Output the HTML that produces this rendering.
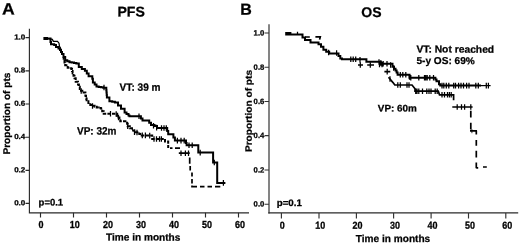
<!DOCTYPE html>
<html><head><meta charset="utf-8"><title>PFS and OS</title>
<style>
html,body{margin:0;padding:0;background:#fff;}
body{width:520px;height:244px;overflow:hidden;position:relative;font-family:"Liberation Sans",sans-serif;}
svg{position:absolute;left:0;top:0;display:block;will-change:transform;}
text{font-family:"Liberation Sans",sans-serif;font-weight:bold;fill:#000;}
</style></head><body>
<svg width="520" height="244" viewBox="0 0 520 244">
<rect width="520" height="244" fill="#fff"/>
<!-- left axes -->
<g stroke="#2a2a2a" stroke-width="1.15" fill="none">
<path d="M29.4 28.8V212.8H249"/>
<path d="M25.5 37.6H29.4M25.5 70.8H29.4M25.5 104H29.4M25.5 137.2H29.4M25.5 170.4H29.4M25.5 203.4H29.4"/>
<path d="M40.5 212.8V217.4M73.5 212.8V217.4M106.5 212.8V217.4M139.5 212.8V217.4M172.5 212.8V217.4M205.5 212.8V217.4M238.5 212.8V217.4"/>
</g>
<!-- right axes -->
<g stroke="#505050" stroke-width="1.4" fill="none">
<path d="M269 24.3V213.4"/>
<path d="M268.3 212.85H518.2" stroke="#2a2a2a" stroke-width="1.15"/>
<path d="M264.5 33H269M264.5 67.3H269M264.5 101.5H269M264.5 135.6H269M264.5 170H269M264.5 204.2H269" stroke="#333" stroke-width="1.1"/>
<path d="M281.4 213V218.4M319 213V218.4M356.4 213V218.4M393.6 213V218.4M431.1 213V218.4M468.5 213V218.4M505.8 213V218.4" stroke="#333" stroke-width="1.15"/>
</g>
<!-- text -->
<text transform="translate(2.0,14.6) rotate(0.03) scale(1.07,1)" font-size="16.5" stroke="#000" stroke-width="0.25">A</text>
<text transform="translate(131.1,16.5) rotate(0.03)" font-size="14.1" text-anchor="middle" stroke="#000" stroke-width="0.25">PFS</text>
<text transform="translate(240.2,14.7) rotate(0.03)" font-size="16" stroke="#000" stroke-width="0.25">B</text>
<text transform="translate(371.4,16.9) rotate(0.03)" font-size="14.0" text-anchor="middle" stroke="#000" stroke-width="0.25">OS</text>
<text transform="translate(25.3,39.4) rotate(0.03) scale(1.1,1)" font-size="7.3" text-anchor="end" stroke="#000" stroke-width="0.25">1.0</text>
<text transform="translate(25.3,72.6) rotate(0.03) scale(1.1,1)" font-size="7.3" text-anchor="end" stroke="#000" stroke-width="0.25">0.8</text>
<text transform="translate(25.3,105.8) rotate(0.03) scale(1.1,1)" font-size="7.3" text-anchor="end" stroke="#000" stroke-width="0.25">0.6</text>
<text transform="translate(25.3,139.0) rotate(0.03) scale(1.1,1)" font-size="7.3" text-anchor="end" stroke="#000" stroke-width="0.25">0.4</text>
<text transform="translate(25.3,172.20000000000002) rotate(0.03) scale(1.1,1)" font-size="7.3" text-anchor="end" stroke="#000" stroke-width="0.25">0.2</text>
<text transform="translate(25.3,205.20000000000002) rotate(0.03) scale(1.1,1)" font-size="7.3" text-anchor="end" stroke="#000" stroke-width="0.25">0.0</text>
<text transform="translate(264.3,35.4) rotate(0.03)" font-size="7.7" text-anchor="end" stroke="#000" stroke-width="0.25">1.0</text>
<text transform="translate(264.3,69.7) rotate(0.03)" font-size="7.7" text-anchor="end" stroke="#000" stroke-width="0.25">0.8</text>
<text transform="translate(264.3,103.9) rotate(0.03)" font-size="7.7" text-anchor="end" stroke="#000" stroke-width="0.25">0.6</text>
<text transform="translate(264.3,138.0) rotate(0.03)" font-size="7.7" text-anchor="end" stroke="#000" stroke-width="0.25">0.4</text>
<text transform="translate(264.3,172.4) rotate(0.03)" font-size="7.7" text-anchor="end" stroke="#000" stroke-width="0.25">0.2</text>
<text transform="translate(264.3,206.6) rotate(0.03)" font-size="7.7" text-anchor="end" stroke="#000" stroke-width="0.25">0.0</text>
<text transform="translate(41,227.9) rotate(0.03) scale(0.88,1)" font-size="10.2" text-anchor="middle" stroke="#000" stroke-width="0.3">0</text>
<text transform="translate(74.7,227.9) rotate(0.03) scale(0.88,1)" font-size="10.2" text-anchor="middle" stroke="#000" stroke-width="0.3">10</text>
<text transform="translate(108.1,227.9) rotate(0.03) scale(0.88,1)" font-size="10.2" text-anchor="middle" stroke="#000" stroke-width="0.3">20</text>
<text transform="translate(141.1,227.9) rotate(0.03) scale(0.88,1)" font-size="10.2" text-anchor="middle" stroke="#000" stroke-width="0.3">30</text>
<text transform="translate(174.1,227.9) rotate(0.03) scale(0.88,1)" font-size="10.2" text-anchor="middle" stroke="#000" stroke-width="0.3">40</text>
<text transform="translate(207.1,227.9) rotate(0.03) scale(0.88,1)" font-size="10.2" text-anchor="middle" stroke="#000" stroke-width="0.3">50</text>
<text transform="translate(240.1,227.9) rotate(0.03) scale(0.88,1)" font-size="10.2" text-anchor="middle" stroke="#000" stroke-width="0.3">60</text>
<text transform="translate(282.3,228.8) rotate(0.03) scale(0.88,1)" font-size="10.2" text-anchor="middle" stroke="#000" stroke-width="0.3">0</text>
<text transform="translate(320.3,228.8) rotate(0.03) scale(0.88,1)" font-size="10.2" text-anchor="middle" stroke="#000" stroke-width="0.3">10</text>
<text transform="translate(357.6,228.8) rotate(0.03) scale(0.88,1)" font-size="10.2" text-anchor="middle" stroke="#000" stroke-width="0.3">20</text>
<text transform="translate(394.9,228.8) rotate(0.03) scale(0.88,1)" font-size="10.2" text-anchor="middle" stroke="#000" stroke-width="0.3">30</text>
<text transform="translate(432.4,228.8) rotate(0.03) scale(0.88,1)" font-size="10.2" text-anchor="middle" stroke="#000" stroke-width="0.3">40</text>
<text transform="translate(469.9,228.8) rotate(0.03) scale(0.88,1)" font-size="10.2" text-anchor="middle" stroke="#000" stroke-width="0.3">50</text>
<text transform="translate(507.2,228.8) rotate(0.03) scale(0.88,1)" font-size="10.2" text-anchor="middle" stroke="#000" stroke-width="0.3">60</text>
<text transform="translate(106.0,240.6) rotate(0.03)" font-size="10.1" stroke="#000" stroke-width="0.25">Time in months</text>
<text transform="translate(355.8,241.9) rotate(0.03)" font-size="10.1" stroke="#000" stroke-width="0.25">Time in months</text>
<text transform="translate(10,154.6) rotate(-89.97) scale(1.045,1)" font-size="9.7" stroke="#000" stroke-width="0.25">Proportion of pts</text>
<text transform="translate(251.8,152.1) rotate(-89.97) scale(1.09,1)" font-size="9.3" stroke="#000" stroke-width="0.25">Proportion of pts</text>
<text transform="translate(38.6,205.5) rotate(0.03)" font-size="9.5" stroke="#000" stroke-width="0.25">p=0.1</text>
<text transform="translate(276.7,206) rotate(0.03) scale(1.03,1)" font-size="9.5" stroke="#000" stroke-width="0.25">p=0.1</text>
<text transform="translate(119.6,90.8) rotate(0.03) scale(0.953,1)" font-size="10.6" stroke="#000" stroke-width="0.25">VT: 39 m</text>
<text transform="translate(77.0,134.6) rotate(0.03) scale(0.935,1)" font-size="10.7" stroke="#000" stroke-width="0.25">VP: 32m</text>
<text transform="translate(416.4,52.6) rotate(0.03) scale(1.02,1)" font-size="10.1" stroke="#000" stroke-width="0.25">VT: Not reached</text>
<text transform="translate(416.4,64.1) rotate(0.03) scale(1.01,1)" font-size="10" stroke="#000" stroke-width="0.25">5-y OS: 69%</text>
<text transform="translate(377.8,111.6) rotate(0.03) scale(1.03,1)" font-size="9.6" stroke="#000" stroke-width="0.25">VP: 60m</text>
<!-- left curves -->
<g fill="none" stroke="#000" stroke-linejoin="miter">
<path d="M43.4 38.1 H48.0 M43.4 39.1 H48.0 M43.5 38.6 H48.0 H50.5V42.0 H51.0V44.2 H54.2V45.0 H56.0V47.0 H58.5V48.5 H60.0V50.0 H61.0V52.0 H62.0V54.0 H63.5V57.0 H65.2V60.3 H67.3V61.2 H69.5V62.2 H71.8V62.6 H74.0V63.0 H76.3V63.4 H78.8V67.0 H81.8V68.9 H84.9V70.8 H86.8V73.5 H88.6V76.3 H92.3V78.8 H92.9V82.5 H94.7V84.5 H96.5V86.5 H98.7V86.9 H101.0V87.3 H103.2V87.7 H106.3V90.2 H106.5V92.6 H106.7V95.1 H106.9V97.5 H109.4V101.2 H112.2V101.8 H114.9V102.5 H118.0V105.5 H121.0V108.7 H124.6V112.6 H126.5V114.1 H128.5V115.6 H129.5V116.3 H139.4 H140.9V118.4 H142.5V120.6 H147.4 H149.2V122.8 H151.0V125.0 H154.6V126.0 H157.0V128.0 H166.3 H167.2V131.1 H168.2V134.2 H171.8 H173.4V137.4 H174.9V140.6 H185.4 H186.0V142.9 H186.6V145.2 H198.3 V152.6 H213.1 V162.5 H217.2 V182.9 H218.0 M217.2 182.9 H225.4" stroke-width="2.0"/>
<path d="M48 38.6 L52.3 39.4 L53.4 41.4 H57.5 L59 43.2 L59.5 46.3 L61 49" stroke-width="1.25"/>
<path d="M63.0 57.0 H63.7V59.7 H64.5V62.5 H65.2V65.2 H67.7V67.7 H69.6V68.3 H71.4V69.0 H72.0V71.1 H72.6V73.2 H73.5V75.7 H74.5V78.2 H75.7V81.8 H78.0V84.5 H78.9V86.7 H79.8V88.9 H81.0V90.8 H82.3V92.6 H85.4V95.7 H86.0V98.5 H86.6V101.2 H88.4V103.1 H90.3V104.9 H92.4V105.8 H94.6V106.8 H96.7V107.4 H98.7V108.0 H100.8V108.6 H102.2V111.2 H103.7V113.8 H116.0 H117.2V115.7 H118.5V117.5 H119.4V119.3 H120.3V121.2 H126.5 H127.1V123.7 H127.7V126.2 H129.8V128.3 H132.0V130.5 H134.3V132.3 H137.0 H139.3V133.9 H141.7V135.4 H149.7 H152.2V139.0 H161.4 H165.0V141.5 H168.2V143.4 V147.9" stroke-width="2.0" stroke-dasharray="3.4 1.2"/>
<path d="M170 148.1 H172.5 M175 148.1 H180 M178.8 153.2 H189.7 M189.7 157.5 V163.7 M190.2 166 V170.6 M192 172.5 V176.5 M192 179 V183.5 M192 185.5 V186.6 H197 M200 186.6 H204.5 M207.5 186.6 H212 M215 186.6 H220.3" stroke-width="1.7"/>
<path d="M104 84.7V90.3 M139 113.5V119.1 M153.5 123.0V128.6 M156.6 124.8V130.4 M161.5 125.2V130.8 M164 125.2V130.8 M166.3 125.2V130.8 M177.4 137.8V143.4 M181 137.8V143.4 M184.2 137.8V143.4 M189 142.4V148.0 M192.2 142.4V148.0 M200.2 149.8V155.4 M214.3 159.7V165.3 M223.4 180.1V185.7 M81.2 88.2V93.8 M92.5 103.2V108.8 M110.5 111.0V116.6 M116.2 111.2V116.8 M118.5 114.7V120.3 M127.7 123.4V129.0 M134.5 129.5V135.1 M137 129.7V135.3 M142.3 132.6V138.2 M145.4 132.6V138.2 M149.7 132.8V138.4 M154 136.2V141.8 M156.5 136.2V141.8 M159.5 136.2V141.8 M161.4 136.2V141.8 M181 150.4V156.0 M185.4 150.4V156.0 M188.5 150.4V156.0" stroke-width="1.25"/>
</g>
<!-- right curves -->
<g fill="none" stroke="#000" stroke-linejoin="miter">
<path d="M285.2 33.0 H291.4 M285.2 34.6 H300.6 H302.5V37.5 H305.0V40.0 H309.8 H310.5V42.5 H316.6 H318.5V44.3 H321.0V46.8 H323.4V49.8 H326.2V51.7 H329.2V53.5 H336.6 H338.5V56.0 H340.3V58.5 H342.0V59.2 H366.4 V61.8 H379.0 H380.8V63.7 H389.4 H392.5V66.8 H394.0V68.7 H395.5V70.5 H396.6V72.6 H397.6V74.7 H407.7 H409.5V77.7 H434.4 H435.4V79.5 H436.5V81.2 H439.0 V84.3 H440.2V85.6 H481.0" stroke-width="2.0"/>
<path d="M305 37 H309.8 M315.4 36.8 H320.3 L319.6 39.6 M358 65 H363 M367.2 65 H374 M384.4 71.6 H390.3 M388.5 77.2 L393 82.6 L394.8 85 H412 L415 88.8 V91.2 H438.3 L439.5 94.8 H453.6 V100.3 M452.3 107 H472.6 M470.8 110.8 V117.4 M470.8 122.8 V129.5 M470 130.8 H477 M476.3 130.8 V134.5 M476.3 140 V145.8 M476.3 150.8 V157.5 M476.3 162.5 V168.3 M476.3 167.8 H478.2 M483 167 H486.8" stroke-width="1.7"/>
<path d="M480 85.6 H490.6" stroke-width="1.2"/>
<path d="M471.9 129.2V133.2" stroke-width="0.8"/>
<path d="M297.5 31.8V34.6 M328.6 49.7V55.3 M336.6 50.2V55.8 M350.8 56.4V62.0 M353.2 56.4V62.0 M355.7 56.4V62.0 M360 57.0V62.6 M379 59.2V64.8 M380.8 60.2V65.8 M383.2 60.9V66.5 M387 60.9V66.5 M390.6 62.2V67.8 M393.7 65.2V70.8 M400.3 71.9V77.5 M402.8 71.9V77.5 M405.8 71.9V77.5 M409.5 74.2V79.8 M410.8 74.9V80.5 M418.8 74.9V80.5 M424.5 74.9V80.5 M425.8 74.9V80.5 M427.2 74.9V80.5 M429.8 74.9V80.5 M433.5 74.9V80.5 M442 82.8V88.4 M443.8 82.8V88.4 M446.3 82.8V88.4 M448.8 82.8V88.4 M453.7 82.8V88.4 M455.5 82.8V88.4 M458.6 82.8V88.4 M461 82.8V88.4 M463.5 82.8V88.4 M466.6 82.8V88.4 M469 82.8V88.4 M475.8 82.8V88.4 M478.3 82.8V88.4 M486.3 82.8V88.4 M488.4 82.8V88.4 M360.3 62.2V67.8 M370.3 62.2V67.8 M379.5 61.7V67.3 M382 61.7V67.3 M387.2 68.8V74.4 M390 76.2V81.8 M397.8 82.2V87.8 M400.3 82.2V87.8 M407 82.2V87.8 M409 82.2V87.8 M415.7 88.4V94.0 M417 88.4V94.0 M418.8 88.4V94.0 M422.5 88.4V94.0 M426.8 88.4V94.0 M429 88.4V94.0 M431 88.4V94.0 M435.2 88.4V94.0 M437.2 88.4V94.0 M442 92.0V97.6 M444.5 92.0V97.6 M447.5 92.0V97.6 M449.4 92.0V97.6 M451.2 92.0V97.6 M457.2 104.2V109.8 M461.5 104.2V109.8 M464.6 104.2V109.8 M470.8 104.2V109.8" stroke-width="1.25"/>
</g>
</svg>
</body></html>
